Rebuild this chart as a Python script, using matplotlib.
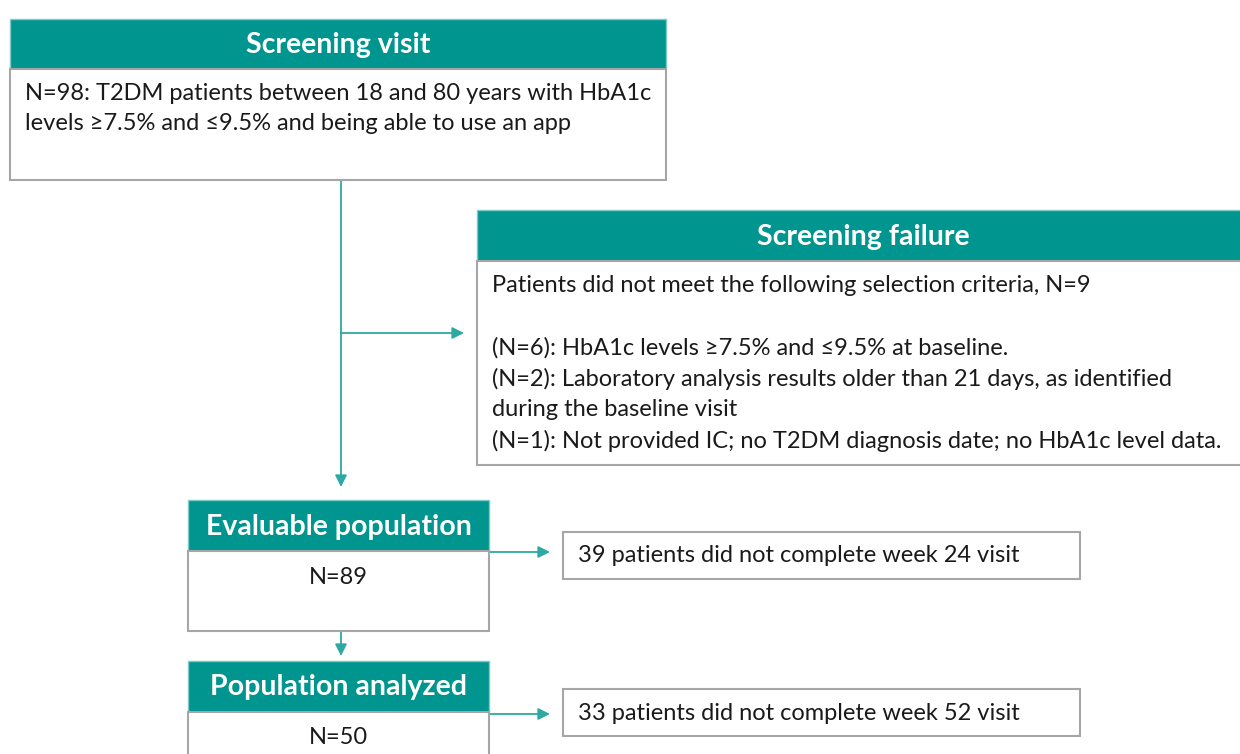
import matplotlib
matplotlib.use("Agg")
import matplotlib.pyplot as plt
from matplotlib.patches import Rectangle

plt.rcParams['font.family'] = ['Lato', 'DejaVu Sans']

# ---- content ----
headers = ["Screening visit", "Screening failure", "Evaluable population", "Population analyzed"]
screening_text = ["N=98: T2DM patients between 18 and 80 years with HbA1c",
                  "levels \u22657.5% and \u22649.5% and being able to use an app"]
failure_text = ["Patients did not meet the following selection criteria, N=9",
                "",
                "(N=6): HbA1c levels \u22657.5% and \u22649.5% at baseline.",
                "(N=2): Laboratory analysis results older than 21 days, as identified",
                "during the baseline visit",
                "(N=1): Not provided IC; no T2DM diagnosis date; no HbA1c level data."]
evaluable_n = "N=89"
analyzed_n = "N=50"
dropout_text = ["39 patients did not complete week 24 visit",
                "33 patients did not complete week 52 visit"]

TEAL = "#00958F"
LINE = "#2EA8A2"
EDGE = "#A6A6A6"

fig = plt.figure(figsize=(12.4, 7.54), dpi=100)
ax = fig.add_axes([0, 0, 1, 1])
ax.set_xlim(0, 1240)
ax.set_ylim(754, 0)
ax.axis('off')

HFS = 20.5
FS = 17

def header_box(x0, x1, y0, y1, text, fs=HFS):
    ax.add_patch(Rectangle((x0, y0), x1 - x0, y1 - y0, facecolor=TEAL, edgecolor='#7FC9C6', lw=1, zorder=2))
    ax.text((x0 + x1) / 2, (y0 + y1) / 2 + 1, text, color='white', fontsize=fs, fontweight='bold',
            ha='center', va='center', zorder=3)

def body_box(x0, x1, y0, y1):
    ax.add_patch(Rectangle((x0, y0), x1 - x0, y1 - y0, facecolor='white', edgecolor=EDGE, lw=1.5, zorder=2))

def arrow(x0, y0, x1, y1):
    ax.annotate("", xy=(x1, y1), xytext=(x0, y0),
                arrowprops=dict(arrowstyle='-|>,head_length=0.7,head_width=0.35', color=LINE, lw=1.3,
                                shrinkA=0, shrinkB=0), zorder=1)

# Screening visit
header_box(10, 666, 19, 69, headers[0])
body_box(10, 666, 69, 180)
for i, line in enumerate(screening_text):
    ax.text(25, 93 + i * 31, line, fontsize=FS, va='center', ha='left', color='#1a1a1a', zorder=3)

# connectors from screening
ax.plot([341, 341], [180, 333], color=LINE, lw=1.3, zorder=1)
arrow(341, 333, 464, 333)
arrow(341, 333, 341, 487)

# Screening failure
header_box(477, 1250, 210, 261, headers[1])
body_box(477, 1250, 261, 465)
fy = [285, 316, 348, 379, 409, 441]
for y, line in zip(fy, failure_text):
    if line:
        ax.text(492, y, line, fontsize=FS, va='center', ha='left', color='#1a1a1a', zorder=3)

# Evaluable population
header_box(188, 489, 500, 551, headers[2])
body_box(188, 489, 551, 631)
ax.text(338, 577, evaluable_n, fontsize=FS, va='center', ha='center', color='#1a1a1a', zorder=3)
arrow(489, 552, 550, 552)
arrow(341, 605, 341, 656)

body_box(563, 1080, 532, 579)
ax.text(578, 556, dropout_text[0], fontsize=FS, va='center', ha='left', color='#1a1a1a', zorder=3)

# Population analyzed
header_box(188, 489, 661, 712, headers[3])
body_box(188, 489, 712, 770)
ax.text(338, 738, analyzed_n, fontsize=FS, va='center', ha='center', color='#1a1a1a', zorder=3)
arrow(489, 714, 550, 714)

body_box(563, 1080, 689, 736)
ax.text(578, 713, dropout_text[1], fontsize=FS, va='center', ha='left', color='#1a1a1a', zorder=3)

fig.savefig("out.png", dpi=100, facecolor='white')
